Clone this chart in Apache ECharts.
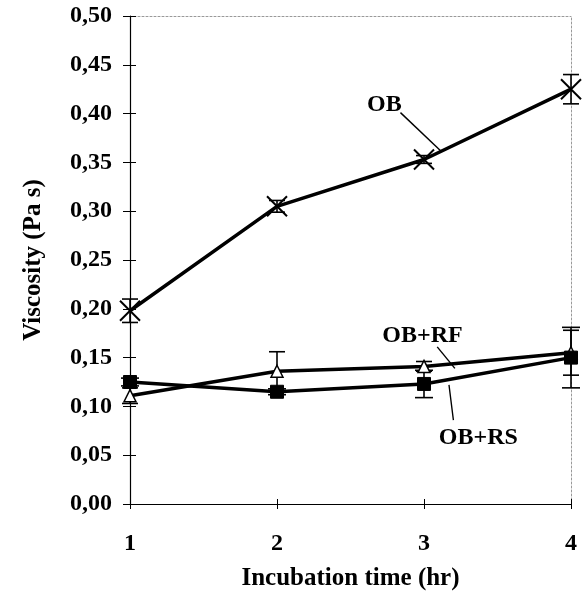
<!DOCTYPE html>
<html>
<head>
<meta charset="utf-8">
<script src="https://cdn.jsdelivr.net/npm/echarts@6/dist/echarts.min.js"></script>
<style>
  html, body { margin: 0; padding: 0; background: #fff; }
  #chart { width: 585px; height: 603px; }
</style>
</head>
<body>
<div id="chart"></div>
<script>
// data
const hours = [1, 2, 3, 4];
const obMean = [0.198, 0.305, 0.353, 0.425];
const obErr = [0.012, 0.006, 0.004, 0.015];
const rfMean = [0.111, 0.136, 0.141, 0.155];
const rfErr = [0.008, 0.02, 0.005, 0.023];
const rsMean = [0.125, 0.115, 0.123, 0.150];
const rsErr = [0.004, 0.003, 0.014, 0.031];

// annotation labels (data coords) and leader lines
const noteNames = ["OB", "OB+RF", "OB+RS"];
const notePos = [[2.73, 0.409], [2.99, 0.172], [3.37, 0.068]];
const noteLines = [
  [[2.84, 0.401], [3.12, 0.361]],
  [[3.09, 0.161], [3.21, 0.139]],
  [[3.17, 0.122], [3.20, 0.086]]
];

const FONT = "Liberation Serif";
const chart = echarts.init(document.getElementById("chart"));

function pairs(means) {
  return hours.map((h, i) => [h, means[i]]);
}
function errRows(means, errs) {
  return hours.map((h, i) => [h, means[i] - errs[i], means[i] + errs[i]]);
}

function errorSeries(means, errs, halfCap) {
  return {
    type: "custom",
    xAxisIndex: 0,
    yAxisIndex: 0,
    silent: true,
    z: 3,
    data: errRows(means, errs),
    renderItem: function (params, api) {
      const lo = api.coord([api.value(0), api.value(1)]);
      const hi = api.coord([api.value(0), api.value(2)]);
      const st = { stroke: "#000", lineWidth: 1.6 };
      return {
        type: "group",
        children: [
          { type: "line", shape: { x1: lo[0], y1: lo[1], x2: hi[0], y2: hi[1] }, style: st },
          { type: "line", shape: { x1: lo[0] - halfCap, y1: lo[1], x2: lo[0] + halfCap, y2: lo[1] }, style: st },
          { type: "line", shape: { x1: hi[0] - halfCap, y1: hi[1], x2: hi[0] + halfCap, y2: hi[1] }, style: st }
        ]
      };
    }
  };
}

function note(i) {
  return {
    markLine: {
      silent: true,
      symbol: "none",
      animation: false,
      label: { show: false },
      lineStyle: { color: "#000", width: 1.4, type: "solid" },
      data: [[{ coord: noteLines[i][0] }, { coord: noteLines[i][1] }]]
    },
    markPoint: {
      silent: true,
      symbol: "circle",
      symbolSize: 0,
      animation: false,
      label: {
        show: true,
        formatter: noteNames[i],
        color: "#000",
        fontFamily: FONT,
        fontWeight: "bold",
        fontSize: 24
      },
      data: [{ coord: notePos[i] }]
    }
  };
}

function lineSeries(name, means, symbol, size, itemStyle, i) {
  return Object.assign({
    name: name,
    type: "line",
    xAxisIndex: 0,
    yAxisIndex: 0,
    data: pairs(means),
    symbol: symbol,
    symbolSize: size,
    showSymbol: true,
    z: 4,
    lineStyle: { color: "#000", width: 3.5 },
    itemStyle: itemStyle,
    animation: false
  }, note(i));
}

const labelStyle = { color: "#000", fontFamily: FONT, fontWeight: "bold", fontSize: 24 };
const nameStyle = { color: "#000", fontFamily: FONT, fontWeight: "bold", fontSize: 25 };

chart.setOption({
  animation: false,
  grid: { left: 130, right: 14, top: 16, bottom: 99 },
  xAxis: [
    {
      type: "value", min: 1, max: 4, interval: 1, position: "bottom",
      axisLine: { show: true, onZero: false, lineStyle: { color: "#000", width: 1.2 } },
      axisTick: { show: true, length: 5, lineStyle: { color: "#000" } },
      axisLabel: Object.assign({ margin: 28 }, labelStyle),
      splitLine: { show: false },
      name: "Incubation time (hr)", nameLocation: "middle", nameGap: 62,
      nameTextStyle: nameStyle
    },
    {
      type: "value", min: 1, max: 4, interval: 1, position: "bottom",
      axisLine: { show: false },
      axisTick: { show: true, inside: true, length: 5, lineStyle: { color: "#000" } },
      axisLabel: { show: false }, splitLine: { show: false }
    },
    {
      type: "value", min: 1, max: 4, interval: 1, position: "top",
      axisLine: { show: true, onZero: false, lineStyle: { color: "#999", width: 1, type: [2, 2] } },
      axisTick: { show: false }, axisLabel: { show: false }, splitLine: { show: false }
    }
  ],
  yAxis: [
    {
      type: "value", min: 0, max: 0.5, interval: 0.05, position: "left",
      axisLine: { show: true, onZero: false, lineStyle: { color: "#000", width: 1.2 } },
      axisTick: { show: true, length: 7, lineStyle: { color: "#000" } },
      axisLabel: Object.assign({
        margin: 18,
        formatter: v => v.toFixed(2).replace(".", ",")
      }, labelStyle),
      splitLine: { show: false },
      name: "Viscosity (Pa s)", nameLocation: "middle", nameGap: 84,
      nameTextStyle: nameStyle
    },
    {
      type: "value", min: 0, max: 0.5, interval: 0.05, position: "left",
      axisLine: { show: false },
      axisTick: { show: true, inside: true, length: 6, lineStyle: { color: "#000" } },
      axisLabel: { show: false }, splitLine: { show: false }
    },
    {
      type: "value", min: 0, max: 0.5, interval: 0.05, position: "right",
      axisLine: { show: true, onZero: false, lineStyle: { color: "#999", width: 1, type: [2, 2] } },
      axisTick: { show: false }, axisLabel: { show: false }, splitLine: { show: false }
    }
  ],
  series: [
    errorSeries(obMean, obErr, 8),
    errorSeries(rfMean, rfErr, 8),
    errorSeries(rsMean, rsErr, 9),
    lineSeries("OB", obMean, "path://M0,0L10,10M10,0L0,10", 20,
      { color: "none", borderColor: "#000", borderWidth: 2 }, 0),
    lineSeries("OB+RF", rfMean, "triangle", 12,
      { color: "#fff", borderColor: "#000", borderWidth: 1.5 }, 1),
    lineSeries("OB+RS", rsMean, "rect", 13,
      { color: "#000", borderColor: "#000", borderWidth: 1 }, 2)
  ]
});
</script>
</body>
</html>
